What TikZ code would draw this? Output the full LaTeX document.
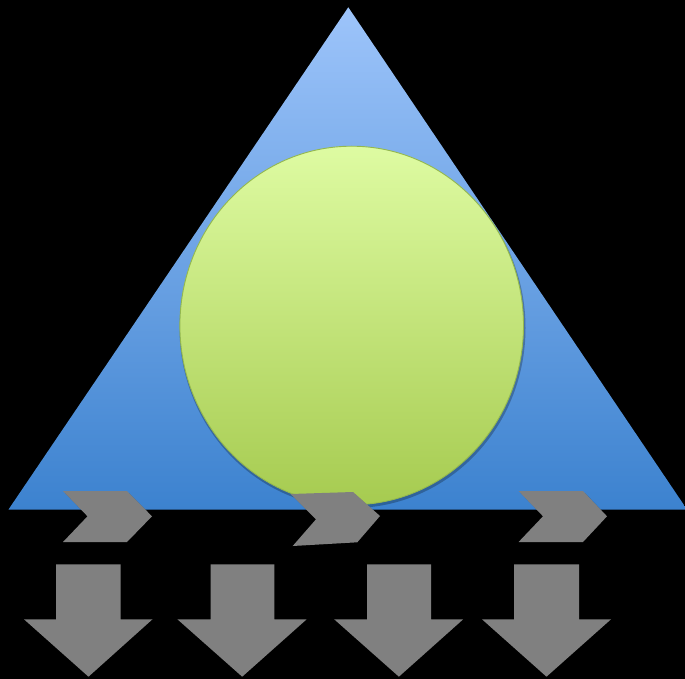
\documentclass[tikz,border=0pt]{standalone}
\usetikzlibrary{shadows}
\definecolor{triTop}{HTML}{9DC4FA}
\definecolor{triBot}{HTML}{3C82CF}
\definecolor{cirTop}{HTML}{DEFBA2}
\definecolor{cirBot}{HTML}{A6CB50}
\definecolor{cirEdge}{HTML}{94B84E}
\definecolor{arrowgray}{HTML}{808080}
\tikzset{
  grayshape/.style={fill=arrowgray, draw=none},
}
\begin{document}
\begin{tikzpicture}[x=1pt,y=-1pt]
\fill[black] (0,0) rectangle (685,679);
\useasboundingbox (0,0) rectangle (685,679);
% triangle
\shade[top color=triTop, bottom color=triBot] (348.3,7.3) -- (8.5,509.5) -- (687,509.5) -- cycle;
% circle shadow
\fill[black, opacity=0.25] (352.5,328) ellipse [x radius=173, y radius=180];
% circle
\shade[top color=cirTop, bottom color=cirBot, draw=cirEdge, line width=0.9pt] (351.7,325.5) ellipse [x radius=171.8, y radius=179.3];
% chevrons
\fill[black, opacity=0.25] (65,493) -- (129,493) -- (154,518) -- (129,544) -- (65,544) -- (89,518) -- cycle;
\fill[grayshape] (63,491) -- (127,491) -- (152,516.3) -- (127,542) -- (63,542) -- (87.5,516.3) -- cycle;
\fill[black, opacity=0.25] (292.7,496) -- (355,494) -- (382,518) -- (359.3,544.3) -- (294.7,548) -- (318,521.3) -- cycle;
\fill[grayshape] (290.7,494) -- (353,492) -- (380,516) -- (357.3,542.3) -- (292.7,546) -- (316,519.3) -- cycle;
\fill[black, opacity=0.25] (520.6,493) -- (585,493) -- (609,518) -- (585,544) -- (520.6,544) -- (545,518) -- cycle;
\fill[grayshape] (518.6,491) -- (583,491) -- (607,516.3) -- (583,542) -- (518.6,542) -- (543,516.3) -- cycle;
% down arrows
\foreach \sl/\sr/\hl/\hr/\tx in {56/120.6/24/152.5/88.5, 210.6/274.4/177.4/306.7/242.2, 367/431/334.2/463.2/398.9, 514.2/579/482/611/546.5}{
  \fill[grayshape] (\sl,564.3) -- (\sr,564.3) -- (\sr,619.3) -- (\hr,619.3) -- (\tx,676.7) -- (\hl,619.3) -- (\sl,619.3) -- cycle;
}
\end{tikzpicture}
\end{document}
